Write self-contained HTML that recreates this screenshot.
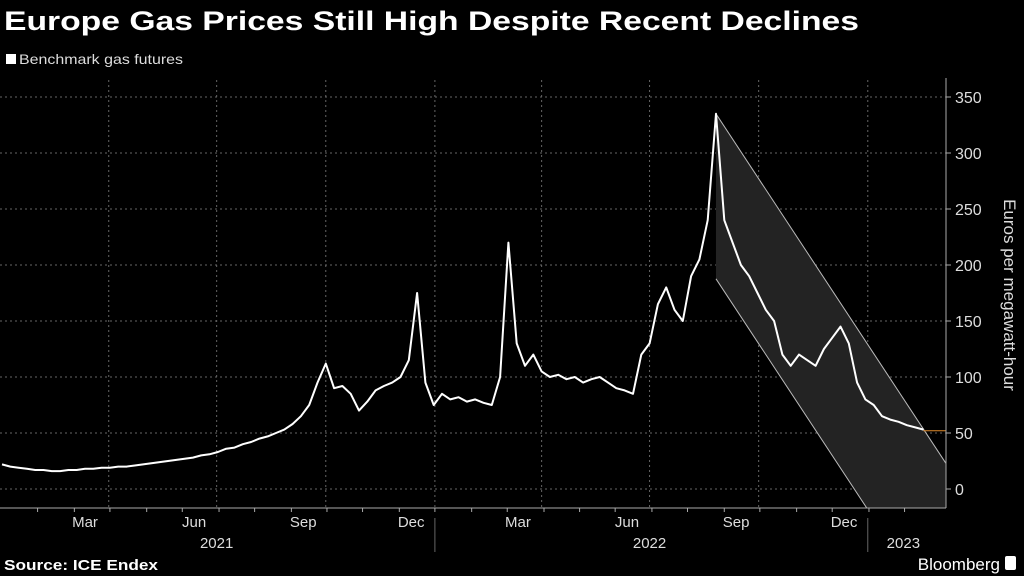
<!DOCTYPE html>
<html><head><meta charset="utf-8"><style>
html,body{margin:0;padding:0;background:#000;}
body{width:1024px;height:576px;overflow:hidden;font-family:"Liberation Sans",sans-serif;color:#fff;}
svg{display:block;}
</style></head><body>
<svg id="chart" width="1024" height="576" xmlns="http://www.w3.org/2000/svg">
<rect width="1024" height="576" fill="#000"/>
<text x="4" y="30" font-size="27" font-weight="bold" fill="#fff" textLength="855" lengthAdjust="spacingAndGlyphs">Europe Gas Prices Still High Despite Recent Declines</text>
<rect x="6" y="54" width="10" height="10" fill="#fff"/>
<text x="19" y="64" font-size="14" fill="#ddd" textLength="164" lengthAdjust="spacingAndGlyphs">Benchmark gas futures</text>
<g id="grid"></g>
<g id="channel"></g>
<g id="series"></g>
<g id="axes"></g>
<text transform="translate(1004,295) rotate(90)" text-anchor="middle" font-size="17" fill="#ddd">Euros per megawatt-hour</text>
<text x="4" y="570" font-size="15" font-weight="bold" fill="#fff" textLength="154" lengthAdjust="spacingAndGlyphs">Source: ICE Endex</text>
<text x="1000" y="570" font-size="17" text-anchor="end" fill="#fff">Bloomberg</text>
<rect x="1005" y="556" width="11" height="14" rx="2" fill="#fff"/>
</svg>
<script>
// weekly values starting Jan 1 2021 (EUR/MWh)
const prices = [22,20,19,18,17,17,16,16,17,
17,18,18,19,19,20,20,21,22,
23,24,25,26,27,28,30,31,
33,36,37,40,42,45,47,50,53,
58,65,75,95,112,90,92,85,70,78,88,92,95,100,115,175,95,75,
85,80,82,78,80,77,75,100,220,130,110,120,105,100,102,98,100,95,98,100,95,90,88,85,
120,130,165,180,160,150,190,205,240,335,240,220,200,190,175,160,150,120,110,120,115,110,125,135,145,130,95,80,75,65,62,60,57,55,53];
const yTicks = [0,50,100,150,200,250,300,350];
const monthLabels = ["Mar","Jun","Sep","Dec","Mar","Jun","Sep","Dec"];
const monthLabelDays = [70,162,254,345,435,527,619,710];
const yearLabels = ["2021","2022","2023"];
const yearLabelDays = [181,546,760];
const lastValue = 52;

const NS="http://www.w3.org/2000/svg";
const X0=2, PXD=1.186, plotR=946, plotB=508;
const xDay=d=>X0+d*PXD;
const y=v=>489-v*1.12;
function mk(t,a,p){const e=document.createElementNS(NS,t);for(const k in a)e.setAttribute(k,a[k]);p.appendChild(e);return e;}
const grid=document.getElementById('grid'),axes=document.getElementById('axes'),ser=document.getElementById('series'),ch=document.getElementById('channel');

yTicks.forEach(v=>{
  const l=mk('line',{x1:0,x2:plotR,y1:y(v),y2:y(v),stroke:'#666','stroke-dasharray':'2,3','stroke-width':1},grid);
  
  
  const t=mk('text',{x:955,y:y(v)+6,'font-size':16,fill:'#ddd'},axes);t.textContent=v;
  
  
  mk('line',{x1:plotR,x2:plotR+5,y1:y(v),y2:y(v),stroke:'#aaa'},axes);
});
[90,181,273,365,455,546,638,730].forEach(d=>{
  const l=mk('line',{x1:xDay(d),x2:xDay(d),y1:80,y2:plotB,stroke:'#666','stroke-dasharray':'2,3'},grid);
  
  
});
mk('line',{x1:plotR,x2:plotR,y1:78,y2:plotB,stroke:'#aaa'},axes);
mk('line',{x1:0,x2:plotR,y1:plotB,y2:plotB,stroke:'#aaa'},axes);
for(let m=1;m<26;m++){const d=Math.round(m*30.44);mk('line',{x1:xDay(d),x2:xDay(d),y1:plotB,y2:plotB+4,stroke:'#aaa'},axes);}
monthLabels.forEach((s,i)=>{const t=mk('text',{x:xDay(monthLabelDays[i]),y:527,'text-anchor':'middle','font-size':15,fill:'#ddd'},axes);t.textContent=s;
  
  });
yearLabels.forEach((s,i)=>{const t=mk('text',{x:xDay(yearLabelDays[i]),y:548,'text-anchor':'middle','font-size':15,fill:'#ddd'},axes);t.textContent=s;
  
  });
[365,730].forEach(d=>mk('line',{x1:xDay(d),x2:xDay(d),y1:plotB+10,y2:552,stroke:'#666'},axes));

// decline channel from peak
let pk=0;prices.forEach((v,i)=>{if(v>prices[pk])pk=i;});
const px=xDay(pk*7), py=y(prices[pk]), slope=1.52, off=165;
const cp=mk('clipPath',{id:'pc'},ch);mk('rect',{x:0,y:0,width:plotR,height:plotB},cp);
const g=mk('g',{'clip-path':'url(#pc)'},ch);
const ex=plotR+80;
const poly=mk('polygon',{points:`${px},${py} ${ex},${py+slope*(ex-px)} ${ex},${py+off+slope*(ex-px)} ${px},${py+off}`,fill:'#232323'},g);


mk('line',{x1:px,y1:py,x2:ex,y2:py+slope*(ex-px),stroke:'#bbb','stroke-width':1},g);
mk('line',{x1:px,y1:py+off,x2:ex,y2:py+off+slope*(ex-px),stroke:'#bbb','stroke-width':1},g);

const pts=prices.map((v,i)=>`${xDay(i*7).toFixed(1)},${y(v).toFixed(1)}`).join(' ');
const pl=mk('polyline',{points:pts,fill:'none',stroke:'#fff','stroke-width':2,'stroke-linejoin':'round'},ser);


const lx=xDay((prices.length-1)*7);
const ll=mk('line',{x1:lx,x2:plotR,y1:y(lastValue),y2:y(lastValue),stroke:'#e08a2a','stroke-width':1},ser);


</script>
</body></html>
